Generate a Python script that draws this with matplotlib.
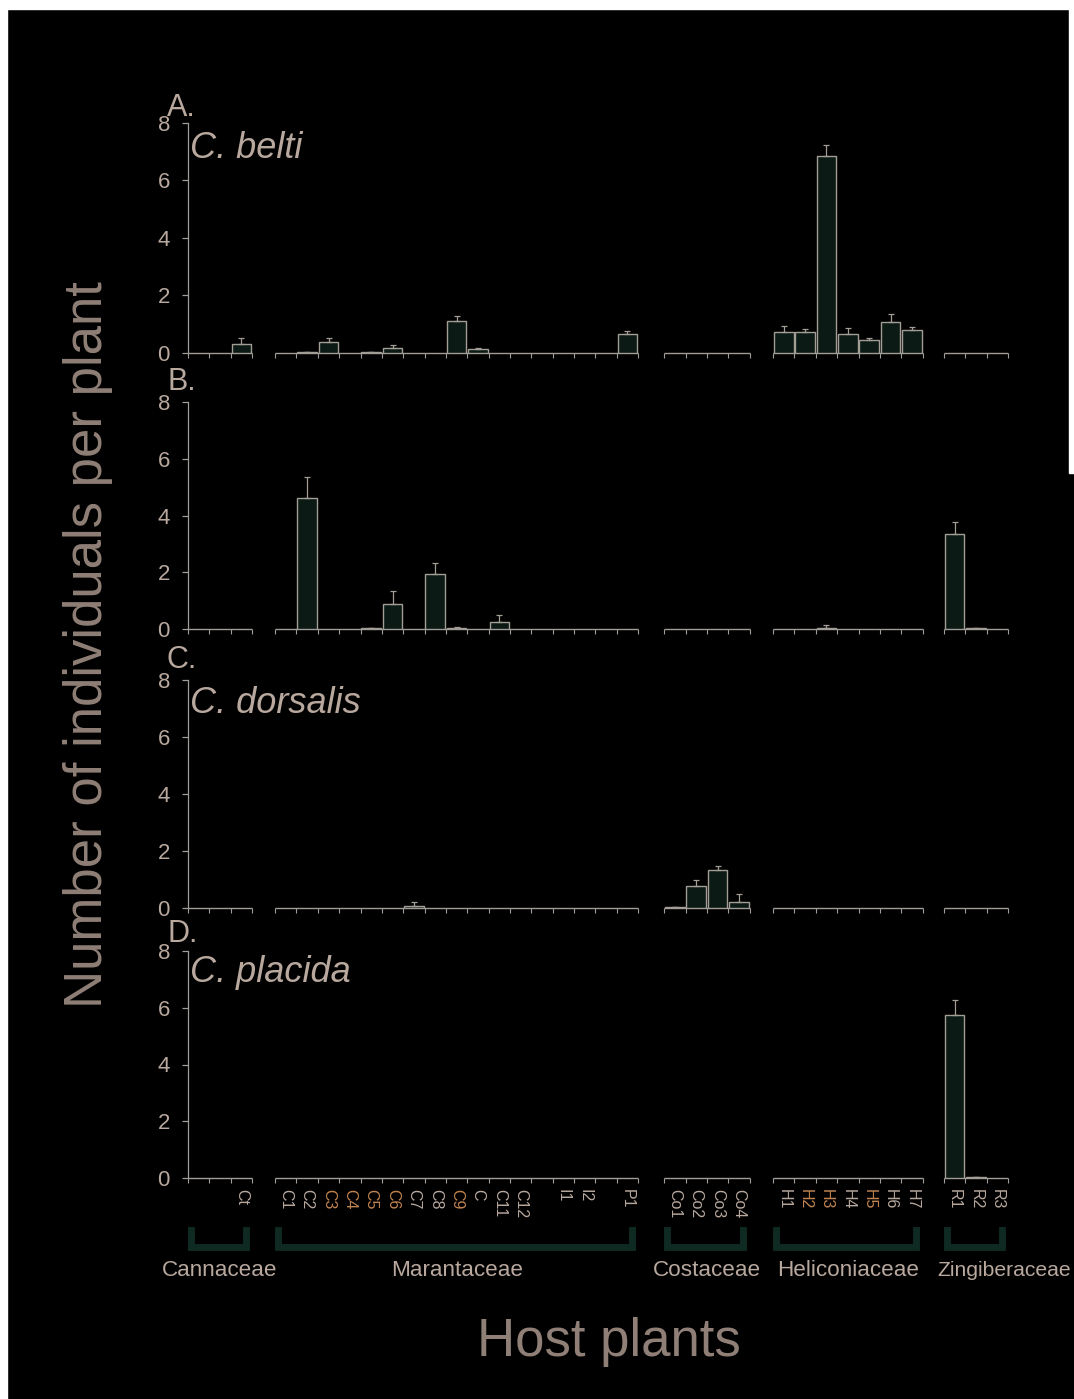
import numpy as np
import matplotlib
matplotlib.use('Agg')
import matplotlib.pyplot as plt
from matplotlib import transforms
from matplotlib.patches import Rectangle

# slot labels per plant family ('' = empty slot)
cannaceae = ['', '', 'Ct']
marantaceae = ['C1', 'C2', 'C3', 'C4', 'C5', 'C6', 'C7', 'C8', 'C9', 'C', 'C11', 'C12',
               '', 'I1', 'I2', '', 'P1']
costaceae = ['Co1', 'Co2', 'Co3', 'Co4']
heliconiaceae = ['H1', 'H2', 'H3', 'H4', 'H5', 'H6', 'H7']
zingiberaceae = ['R1', 'R2', 'R3']
families = ['Cannaceae', 'Marantaceae', 'Costaceae', 'Heliconiaceae', 'Zingiberaceae']
family_slots = [cannaceae, marantaceae, costaceae, heliconiaceae, zingiberaceae]
family_start = [0.0, 4.08, 22.3, 27.4, 35.4]
orange_labels = ['C3', 'C4', 'C5', 'C6', 'C9', 'H2', 'H3', 'H5']

# A. C. belti
belti_hosts = ['Ct', 'C2', 'C3', 'C5', 'C6', 'C9', 'C', 'P1',
               'H1', 'H2', 'H3', 'H4', 'H5', 'H6', 'H7']
belti_mean = [0.31, 0.02, 0.39, 0.04, 0.18, 1.11, 0.13, 0.66,
              0.74, 0.73, 6.85, 0.66, 0.44, 1.08, 0.79]
belti_se = [0.21, 0.0, 0.13, 0.01, 0.10, 0.18, 0.05, 0.11,
            0.20, 0.11, 0.38, 0.21, 0.08, 0.29, 0.12]
# B. (no species name)
b_hosts = ['C2', 'C5', 'C6', 'C8', 'C9', 'C11', 'H3', 'R1', 'R2']
b_mean = [4.63, 0.03, 0.89, 1.94, 0.05, 0.25, 0.02, 3.34, 0.03]
b_se = [0.73, 0.01, 0.46, 0.38, 0.02, 0.25, 0.13, 0.44, 0.02]
# C. C. dorsalis
dorsalis_hosts = ['C7', 'Co1', 'Co2', 'Co3', 'Co4']
dorsalis_mean = [0.08, 0.03, 0.78, 1.34, 0.21]
dorsalis_se = [0.14, 0.0, 0.19, 0.12, 0.28]
# D. C. placida
placida_hosts = ['R1', 'R2']
placida_mean = [5.76, 0.03]
placida_se = [0.53, 0.01]

panels = [('A.', 'C. belti', belti_hosts, belti_mean, belti_se),
          ('B.', '', b_hosts, b_mean, b_se),
          ('C.', 'C. dorsalis', dorsalis_hosts, dorsalis_mean, dorsalis_se),
          ('D.', 'C. placida', placida_hosts, placida_mean, placida_se)]
# pixel rows of y=0 and y=8 for every panel
rows = [(353, 123), (629, 402), (908, 680), (1178, 951)]
letter_base = [116, 390, 668, 942]
name_base = [158, 0, 713, 982]

plt.rcParams['font.family'] = ['Liberation Sans', 'DejaVu Sans']
W, H = 1074, 1399
fig = plt.figure(figsize=(W / 100, H / 100), dpi=100, facecolor='black')

txt = '#b8a89e'
big_txt = '#8f7f76'
axis_col = '#a09c98'
bar_fill = '#0b1a15'
bar_edge = '#a29e95'

# slot centres and slot boundaries
slot_x, slot_lab, bounds = [], [], []
for start, labs in zip(family_start, family_slots):
    for i, lab in enumerate(labs):
        slot_x.append(start + i + 0.5)
        slot_lab.append(lab)
    bounds += list(start + np.arange(len(labs) + 1))
pos = {lab: x for x, lab in zip(slot_x, slot_lab) if lab}
xmax = family_start[-1] + len(zingiberaceae)

axes = []
for (letter, name, hosts, mean, se), (y0, y8), lb, nb in zip(panels, rows, letter_base, name_base):
    ax = fig.add_axes([188 / W, 1 - y0 / H, 820 / W, (y0 - y8) / H])
    ax.set_facecolor('none')
    ax.set_xlim(0, xmax)
    ax.set_ylim(0, 8)
    for s in ['top', 'right', 'bottom']:
        ax.spines[s].set_visible(False)
    ax.spines['left'].set_color(axis_col)
    ax.spines['left'].set_linewidth(0.9)
    ax.set_yticks([0, 2, 4, 6, 8])
    ax.tick_params(axis='y', colors=axis_col, labelcolor=txt, labelsize=16, length=4, width=0.9, pad=9)

    for start, labs in zip(family_start, family_slots):
        ax.hlines(0, start, start + len(labs), color=axis_col, lw=1.0, clip_on=False, zorder=1)
    ax.set_xticks(bounds, minor=True)
    ax.tick_params(axis='x', which='minor', length=3.5, width=0.8, color=axis_col, direction='out')
    ax.set_xticks(slot_x)
    ax.tick_params(axis='x', which='major', length=0)
    ax.set_xticklabels([])

    x = [pos[h] for h in hosts]
    ax.bar(x, mean, width=0.92, color=bar_fill, edgecolor=bar_edge, linewidth=1.0, zorder=2)
    ax.errorbar(x, mean, yerr=[np.zeros(len(se)), se], fmt='none', ecolor=bar_edge,
                elinewidth=0.9, capsize=2, capthick=0.9, zorder=3)

    fig.text(167 / W, 1 - lb / H, letter, fontsize=22, color=txt, va='baseline', ha='left')
    if name:
        fig.text(190 / W, 1 - nb / H, name, fontsize=26, color=txt, style='italic',
                 va='baseline', ha='left')
    axes.append(ax)

axd = axes[-1]
axd.set_xticklabels(slot_lab, rotation=270, fontsize=11.5, va='top', ha='center')
axd.tick_params(axis='x', which='major', pad=8)
for t in axd.get_xticklabels():
    t.set_color('#c08450' if t.get_text() in orange_labels else txt)

# family brackets and names
tr = transforms.blended_transform_factory(axd.transData, fig.transFigure)
for k, (fam, start, labs) in enumerate(zip(families, family_start, family_slots)):
    l, r = start + 0.15, start + len(labs) - 0.3
    axd.plot([l, l, r, r], [1 - 1230 / H, 1 - 1247 / H, 1 - 1247 / H, 1 - 1230 / H],
             color='#0e2a22', lw=5, transform=tr, clip_on=False, solid_joinstyle='miter')
    last = k == len(families) - 1
    if last:
        # right-most name runs to the image edge, keep it inside
        fig.text(start - 0.3, 1 - 1276 / H, fam, fontsize=15.2, color=txt,
                 ha='left', va='baseline', transform=tr)
    else:
        fig.text(start + len(labs) / 2, 1 - 1276 / H, fam, fontsize=16.2, color=txt,
                 ha='center', va='baseline', transform=tr)

fig.text(609 / W, 1 - 1342 / H, 'Host plants', fontsize=38, color=big_txt, ha='center', va='center')
fig.text(88 / W, 1 - 645 / H, 'Number of individuals per plant', fontsize=38, color=big_txt,
         ha='center', va='center', rotation=90)

# white margins of the original image
for x0, y0, w, h in [(0, 0, W, 9), (W - 5, 0, 5, 473), (0, 0, 7, H)]:
    fig.patches.append(Rectangle((x0 / W, 1 - (y0 + h) / H), w / W, h / H,
                                 transform=fig.transFigure, color='white', zorder=10))

fig.savefig('out.png', dpi=100, facecolor='black')
